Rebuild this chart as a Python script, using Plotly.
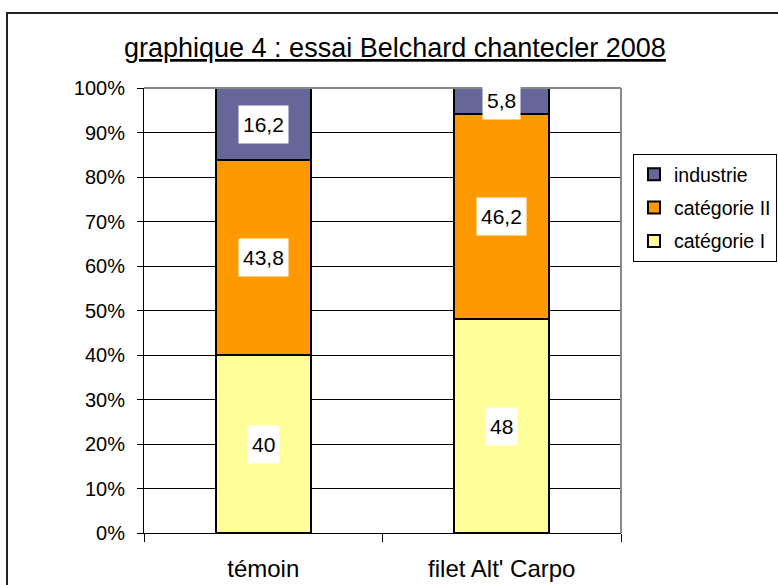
import plotly.graph_objects as go

categories = ["témoin", "filet Alt' Carpo"]
series_names = ["catégorie I", "catégorie II", "industrie"]
cat1 = [40, 48]
cat2 = [43.8, 46.2]
industrie = [16.2, 5.8]
colors = ["#FFFF99", "#FF9900", "#666699"]
y_ticks = [0, 10, 20, 30, 40, 50, 60, 70, 80, 90, 100]
y_tick_labels = [f"{v}%" for v in y_ticks]
title = "graphique 4 : essai Belchard chantecler 2008"

W, H = 778, 585
L, R, T, B = 144, 621, 88, 533
FONT = "Liberation Sans, Arial, sans-serif"

fig = go.Figure()
series = [cat1, cat2, industrie]
for i, (name, vals, col) in enumerate(zip(series_names, series, colors)):
    fig.add_trace(go.Bar(
        x=categories, y=vals, name=name, legendgroup=f"g{i}",
        legendrank=10 - i,
        marker=dict(color=col, line=dict(color="black", width=2)),
        width=0.4,
    ))

def fmt(v):
    s = f"{v:g}"
    return s.replace(".", ",")

annotations = []
for ci, cat in enumerate(categories):
    base = 0
    for vals in series:
        v = vals[ci]
        annotations.append(dict(
            x=cat, y=base + v / 2, xref="x", yref="y",
            text=fmt(v), showarrow=False,
            font=dict(family=FONT, size=21, color="black"),
            bgcolor="white", borderpad=4, height=29,
        ))
        base += v

pw = R - L
ph = B - T
def px_x(p):
    return (p - L) / pw
def px_y(p):
    return (B - p) / ph

annotations.append(dict(
    x=px_x(395), y=px_y(48), xref="paper", yref="paper",
    text=f"<u>{title}</u>", showarrow=False,
    font=dict(family=FONT, size=27, color="black"),
    xanchor="center", yanchor="middle",
))

shapes = [
    dict(type="rect", xref="paper", yref="paper",
         x0=px_x(7), x1=px_x(800), y0=px_y(13), y1=px_y(600),
         line=dict(color="#222222", width=2), fillcolor="rgba(0,0,0,0)", layer="below"),
    dict(type="line", xref="paper", yref="paper", x0=0, x1=1, y0=1, y1=1,
         line=dict(color="#888888", width=2)),
    dict(type="line", xref="paper", yref="paper", x0=1, x1=1, y0=0, y1=1,
         line=dict(color="#888888", width=2)),
]

fig.update_layout(
    width=W, height=H,
    margin=dict(l=L, r=W - R, t=T, b=H - B, pad=0, autoexpand=False),
    paper_bgcolor="white", plot_bgcolor="white",
    barmode="stack",
    font=dict(family=FONT, size=20, color="black"),
    showlegend=True,
    legend=dict(
        x=px_x(633), y=px_y(154), xanchor="left", yanchor="top",
        traceorder="grouped", tracegroupgap=5,
        bordercolor="black", borderwidth=1, bgcolor="white",
        font=dict(family=FONT, size=19.5, color="black"),
        itemwidth=30,
    ),
    annotations=annotations,
    shapes=shapes,
)
fig.update_xaxes(
    type="category", showline=True, linecolor="black", linewidth=1,
    ticks="outside", tickson="boundaries", ticklen=8, tickcolor="black",
    tickfont=dict(family=FONT, size=24, color="black"),
    ticklabelstandoff=14,
    showgrid=False, range=[-0.5, 1.5],
)
fig.update_yaxes(
    range=[0, 100], tickvals=y_ticks, ticktext=y_tick_labels,
    showline=True, linecolor="black", linewidth=1,
    ticks="outside", ticklen=6, tickcolor="black",
    tickfont=dict(family=FONT, size=20, color="black"),
    ticklabelstandoff=8,
    showgrid=True, gridcolor="black", gridwidth=1, zeroline=False,
)

fig.write_html(
    "out.html",
    config={"displayModeBar": False},
    post_script="document.body.style.margin='0';document.body.style.overflow='hidden';",
)
